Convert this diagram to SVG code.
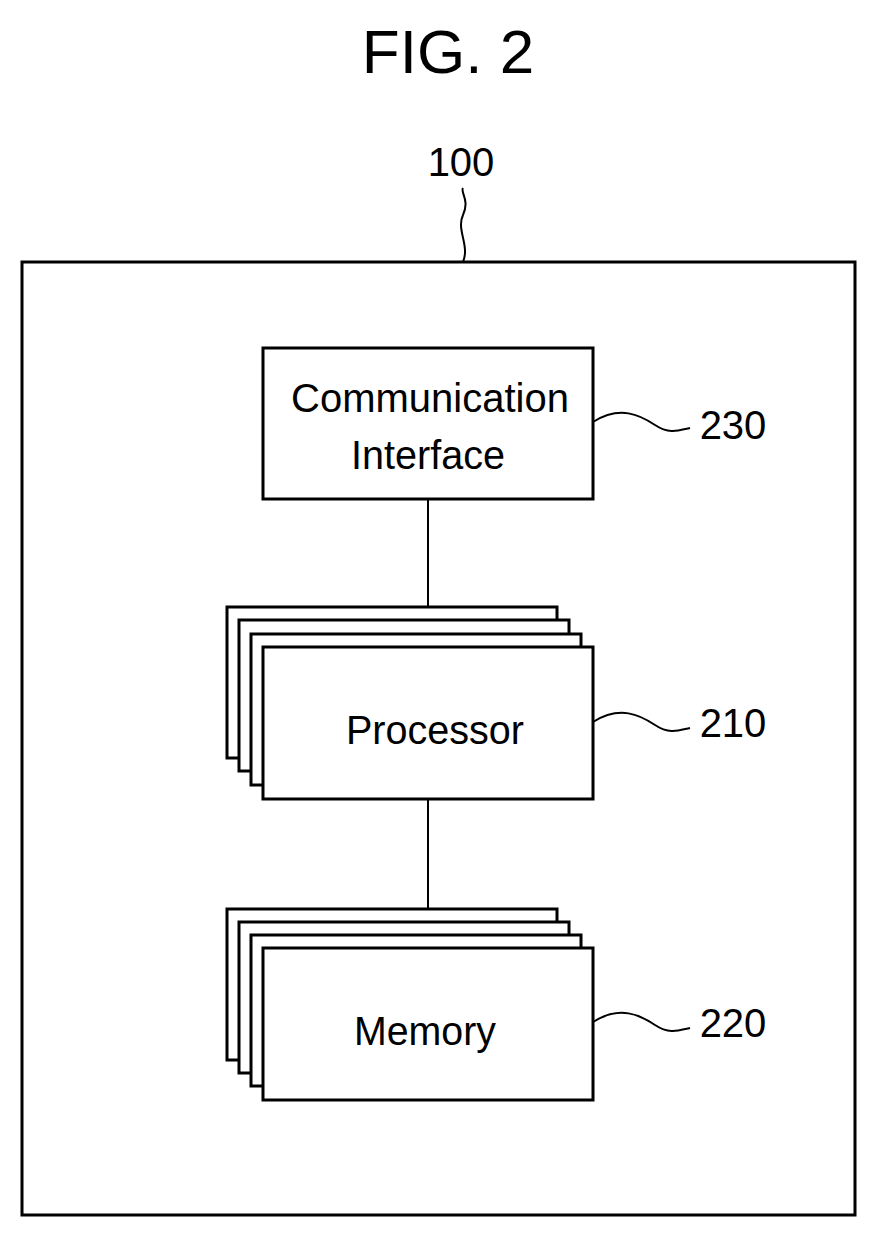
<svg xmlns="http://www.w3.org/2000/svg" width="877" height="1239" viewBox="0 0 877 1239">
<style>
.b{fill:#fff;stroke:#000;stroke-width:3}
.l{fill:none;stroke:#000;stroke-width:2}
.t{font-family:"Liberation Sans",Arial,sans-serif;fill:#000;text-anchor:middle}
</style>
<rect width="877" height="1239" fill="#fff"/>
<text class="t" x="448" y="73" font-size="62">FIG. 2</text>
<g id="n100">
<text class="t" x="461" y="176" font-size="40">100</text>
<rect class="b" x="22" y="262" width="833" height="953"/>
</g>
<g id="connectors">
<path class="l" d="M463 262 C470 245 456 230 463 215 C470 200 460 192 463 188"/>
<line class="l" x1="428" y1="499" x2="428" y2="607"/>
<line class="l" x1="428" y1="799" x2="428" y2="909"/>
<path class="l" d="M593 422 C620 405 640 415 655 425 C670 435 680 430 690 428"/>
<path class="l" d="M593 722 C620 705 640 715 655 725 C670 735 680 730 690 728"/>
<path class="l" d="M593 1022 C620 1005 640 1015 655 1025 C670 1035 680 1030 690 1028"/>
</g>
<g id="n230">
<rect class="b" x="263" y="348" width="330" height="151"/>
<text class="t" x="430" y="412" font-size="41" textLength="278" lengthAdjust="spacingAndGlyphs">Communication</text>
<text class="t" x="428" y="469" font-size="41" textLength="154" lengthAdjust="spacingAndGlyphs">Interface</text>
<text class="t" x="733" y="439" font-size="40">230</text>
</g>
<g id="n210">
<rect class="b" x="227" y="607" width="330" height="151"/>
<rect class="b" x="239" y="620" width="330" height="151"/>
<rect class="b" x="251" y="634" width="330" height="151"/>
<rect class="b" x="263" y="647" width="330" height="152"/>
<text class="t" x="435" y="744" font-size="41" textLength="178" lengthAdjust="spacingAndGlyphs">Processor</text>
<text class="t" x="733" y="737" font-size="40">210</text>
</g>
<g id="n220">
<rect class="b" x="227" y="909" width="330" height="151"/>
<rect class="b" x="239" y="922" width="330" height="151"/>
<rect class="b" x="251" y="935" width="330" height="151"/>
<rect class="b" x="263" y="948" width="330" height="152"/>
<text class="t" x="425" y="1045" font-size="41" textLength="142" lengthAdjust="spacingAndGlyphs">Memory</text>
<text class="t" x="733" y="1037" font-size="40">220</text>
</g>
</svg>
